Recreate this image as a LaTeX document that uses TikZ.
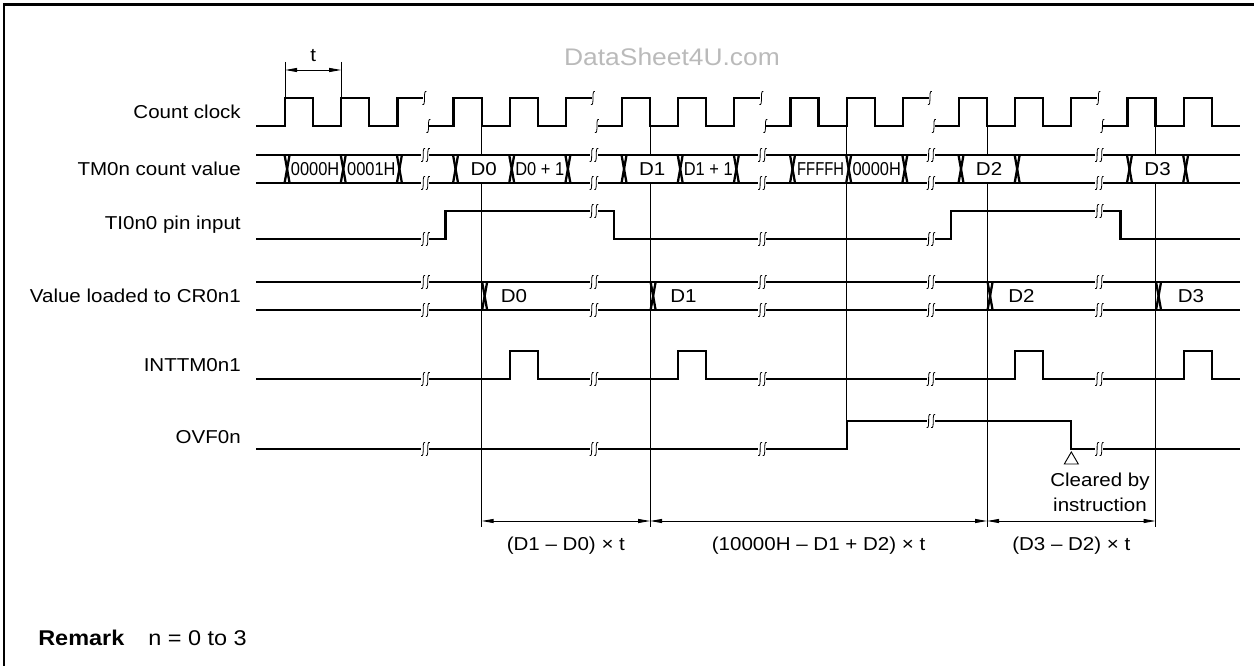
\documentclass[tikz,border=0pt]{standalone}
\usepackage{fontspec}
\setmainfont{Liberation Sans}[FakeStretch=1.1]
\usetikzlibrary{arrows.meta}
\newcommand\g[1]{(257+28.08*(#1))}
\newcommand\esh[2]{%
  \draw[brkl] ({#1+2},{#2-6.5}) .. controls ({#1-2},{#2-8.5}) and ({#1+2},{#2+8.5}) .. ({#1-2},{#2+6.5});
}
\newcommand\brk[2]{%
  \fill[white] ({#1-4},{#2-2.2}) rectangle ({#1+4},{#2+2.2});
  \esh{#1-2.3}{#2}
  \esh{#1+2.3}{#2}
}
\newcommand\smk[2]{\esh{#1}{#2}}
\begin{document}
\begin{tikzpicture}[x=0.75pt,y=-0.75pt,
  sig/.style={line width=1.7pt,line join=miter},
  vref/.style={line width=0.7pt},
  brkl/.style={line width=0.6pt},
  dim/.style={vref,{Triangle[length=9pt,width=3pt]}-{Triangle[length=9pt,width=3pt]}},
  lbl/.style={anchor=east,inner sep=0pt,font=\fontsize{14}{16}\selectfont},
  txt/.style={inner sep=0pt,font=\fontsize{14}{16}\selectfont},
  cnd/.style={inner sep=0pt,font=\fontsize{14}{16}\selectfont}]
\useasboundingbox (0,0) rectangle (1254,666);
% frame
\draw[line width=2pt] (4,666) -- (4,4.5) -- (1254,4.5);
% watermark
\node[inner sep=0pt,text=black!27,font=\fontsize{18}{20}\selectfont] (wm) at (672,57) {DataSheet4U.com};
% row labels
\node[lbl] (lclk) at (241,112) {Count clock};
\node[lbl] (ltm) at (241,169) {TM0n count value};
\node[lbl] (lti) at (241,225) {TI0n0 pin input};
\node[lbl] (lcr) at (241,296) {Value loaded to CR0n1};
\node[lbl] (lint) at (241,365) {INTTM0n1};
\node[lbl] (lovf) at (241,437) {OVF0n};
% t dimension
\draw[vref] ({\g{1}},62) -- ({\g{1}},98);
\draw[vref] ({\g{3}},62) -- ({\g{3}},98);
\coordinate (ta) at ({\g{1}},70);
\coordinate (tb) at ({\g{3}},70);
\draw[dim] (ta) -- (tb);
\node[txt] (tl) at ({\g{2}},56) {t};
% reference lines
\foreach \n in {8,14,26,32} {
  \draw[vref] ({\g{\n}},126) -- ({\g{\n}},155);
  \draw[vref] ({\g{\n}},183) -- ({\g{\n}},527);
}
\draw[vref] ({\g{21}},126) -- ({\g{21}},155);
\draw[vref] ({\g{21}},183) -- ({\g{21}},449);
% count clock
\draw[sig] (256,126) -- ({\g{1}},126) |- ({\g{2}},98) |- ({\g{3}},126) |- ({\g{4}},98) |- ({\g{5}},126) |- ({\g{6}-2},98);
\foreach \k in {1,2,3,4} {
  \draw[sig] ({\g{6*\k}+4},126) -- ({\g{6*\k+1}},126) |- ({\g{6*\k+2}},98) |- ({\g{6*\k+3}},126) |- ({\g{6*\k+4}},98) |- ({\g{6*\k+5}},126) |- ({\g{6*\k+6}-2},98);
}
\draw[sig] ({\g{30}+4},126) -- ({\g{31}},126) |- ({\g{32}},98) |- ({\g{33}},126) |- ({\g{34}},98) |- ({\g{35}},126);
\foreach \n in {6,12,18,24,30} {
  \smk{\g{\n}-1}{98}
  \smk{\g{\n}+3}{126}
}
% TM0n count value
\draw[sig] (256,155) -- ({\g{35}},155);
\draw[sig] (256,183) -- ({\g{35}},183);
\foreach \n in {1,3,5,7,9,11,13,15,17,19,21,23,25,27,31,33} {
  \draw[sig] ({\g{\n}-0.5},155) -- ({\g{\n}+4.5},183);
  \draw[sig] ({\g{\n}+4.5},155) -- ({\g{\n}-0.5},183);
}
\foreach \n in {6,12,18,24,30} { \brk{\g{\n}}{155} \brk{\g{\n}}{183} }
\node[cnd] (c1) at ({\g{2}+2},169) {\scalebox{0.8}[1]{0000H}};
\node[cnd] (c2) at ({\g{4}+2},169) {\scalebox{0.8}[1]{0001H}};
\node[txt] (c3) at ({\g{8}+2},169) {D0};
\node[cnd] (c4) at ({\g{10}+2},169) {\scalebox{0.8}[1]{D0 + 1}};
\node[txt] (c5) at ({\g{14}+2},169) {D1};
\node[cnd] (c6) at ({\g{16}+2},169) {\scalebox{0.8}[1]{D1 + 1}};
\node[cnd] (c7) at ({\g{20}+2},169) {\scalebox{0.72}[1]{FFFFH}};
\node[cnd] (c8) at ({\g{22}+2},169) {\scalebox{0.8}[1]{0000H}};
\node[txt] (c9) at ({\g{26}+2},169) {D2};
\node[txt] (c10) at ({\g{32}+2},169) {D3};
% TI0n0 pin input
\draw[sig] (256,239) -- ({\g{6}+20},239) |- ({\g{12}+20},211) |- ({\g{24}+20},239) |- ({\g{30}+21},211) |- ({\g{35}},239);
\brk{\g{6}}{239} \brk{\g{12}}{211} \brk{\g{18}}{239} \brk{\g{24}}{239} \brk{\g{30}}{211}
% CR0n1
\draw[sig] (256,282) -- ({\g{35}},282);
\draw[sig] (256,310) -- ({\g{35}},310);
\foreach \n in {8,14,26,32} {
  \draw[sig] ({\g{\n}+0.5},282) -- ({\g{\n}+5.5},310);
  \draw[sig] ({\g{\n}+5.5},282) -- ({\g{\n}+0.5},310);
}
\foreach \n in {6,12,18,24,30} { \brk{\g{\n}}{282} \brk{\g{\n}}{310} }
\node[txt,anchor=west] (r0) at ({\g{8}+19},296) {D0};
\node[txt,anchor=west] (r1) at ({\g{14}+20},296) {D1};
\node[txt,anchor=west] (r2) at ({\g{26}+21},296) {D2};
\node[txt,anchor=west] (r3) at ({\g{32}+22},296) {D3};
% INTTM0n1
\draw[sig] (256,379) -- ({\g{9}},379) |- ({\g{10}},351) |- ({\g{15}},379) |- ({\g{16}},351) |- ({\g{27}},379) |- ({\g{28}},351) |- ({\g{33}},379) |- ({\g{34}},351) |- ({\g{35}},379);
\foreach \n in {6,12,18,24,30} { \brk{\g{\n}}{379} }
% OVF0n
\draw[sig] (256,449) -- ({\g{21}},449) |- ({\g{29}},421) |- ({\g{35}},449);
\brk{\g{6}}{449} \brk{\g{12}}{449} \brk{\g{18}}{449} \brk{\g{24}}{421} \brk{\g{30}}{449}
\draw[vref,fill=white] ({\g{29}},452) -- ({\g{29}-7},464) -- ({\g{29}+7},464) -- cycle;
\node[txt,align=center,font=\fontsize{14}{18.8}\selectfont] (clr) at (1100,492) {Cleared by\\instruction};
% dimensions
\coordinate (a0) at ({\g{8}},521);
\coordinate (a1) at ({\g{14}},521);
\coordinate (a2) at ({\g{26}},521);
\coordinate (a3) at ({\g{32}},521);
\draw[dim] (a0) -- (a1);
\draw[dim] (a1) -- (a2);
\draw[dim] (a2) -- (a3);
\node[txt] (m1) at ({\g{11}},546) {(D1 – D0) × t};
\node[txt] (m2) at ({\g{20}},546) {(10000H – D1 + D2) × t};
\node[txt] (m3) at ({\g{29}},546) {(D3 – D2) × t};
% remark
\node[inner sep=0pt,anchor=west,font=\fontsize{16}{18}\selectfont\bfseries] (rem) at (38,638) {Remark};
\node[inner sep=0pt,anchor=west,font=\fontsize{16}{18}\selectfont] (remv) at (148,638) {n = 0 to 3};
\end{tikzpicture}
\end{document}
